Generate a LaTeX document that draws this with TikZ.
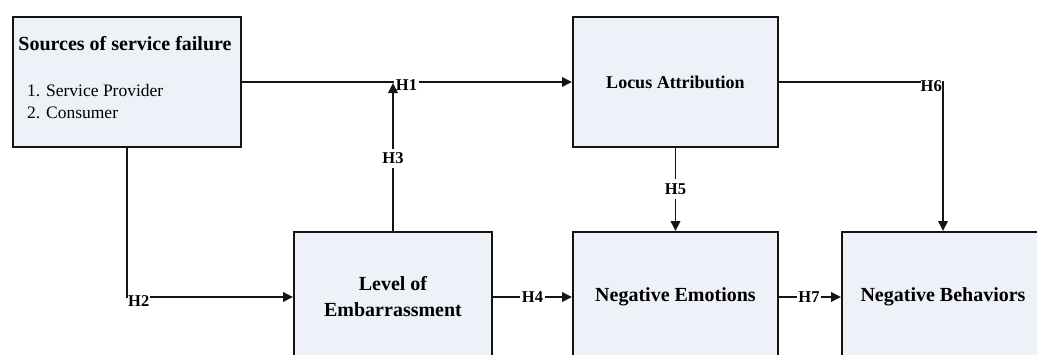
\documentclass[tikz,border=0pt]{standalone}
\usepackage{fontspec}
\setmainfont{Liberation Serif}
\usetikzlibrary{arrows.meta}
\definecolor{boxfill}{RGB}{238,241,247}
\definecolor{boxline}{RGB}{20,20,20}
\begin{document}
\begin{tikzpicture}[x=1pt,y=-1pt,
  box/.style={draw=boxline,fill=boxfill,line width=2pt,inner sep=0pt,align=center,
    font=\fontsize{20}{26}\selectfont\bfseries},
  conn/.style={line width=1.9pt,draw=boxline},
  arr/.style={conn,-{Triangle[length=10pt,width=9.5pt]}},
  hlab/.style={inner xsep=1.5pt,inner ysep=4pt,font=\fontsize{16.5}{16.5}\selectfont\bfseries},
  srctitle/.style={inner sep=0pt,anchor=base,font=\fontsize{20}{24}\selectfont\bfseries},
  srcitem/.style={inner sep=0pt,anchor=base west,font=\fontsize{17.5}{22}\selectfont}]
\clip (0,0) rectangle (1037,354);
\fill[white] (0,0) rectangle (1037,354);
% boxes
\node[box,minimum width=228pt,minimum height=130pt] (src) at (127,82) {};
\node[srctitle] (srct) at (125,50.5) {Sources of service failure};
\node[srcitem] (it1) at (27,96.5) {1. Service Provider};
\node[srcitem] (it2) at (27,118.5) {2. Consumer};
\node[box,minimum width=205pt,minimum height=130pt,font=\fontsize{18}{22}\selectfont\bfseries] (loc) at (675.5,82) {Locus Attribution};
\node[box,minimum width=198pt,minimum height=130pt] (emb) at (393,297) {Level of\\Embarrassment};
\node[box,minimum width=205pt,minimum height=130pt] (neg) at (675.5,297) {Negative Emotions};
\node[box,minimum width=202pt,minimum height=130pt] (beh) at (943,297) {Negative Behaviors};
% labels
\node[hlab] (h1) at (406.5,85) {H1};
\node[hlab] (h3) at (393,158.5) {H3};
\node[hlab,anchor=west,inner xsep=0.5pt] (h2) at (127.5,301) {H2};
\node[hlab] (h4) at (532.5,297.5) {H4};
\node[hlab] (h5) at (675.5,189) {H5};
\node[hlab,anchor=east,inner xsep=0pt] (h6) at (942,86) {H6};
\node[hlab] (h7) at (809,297.5) {H7};
% connectors
\draw[conn] (src.east) -- (src.east -| h1.west);
\draw[arr] (h1.east |- src.east) -- (loc.west);
\draw[conn] (emb.north) -- (h3.south);
\draw[arr,shorten >=1pt] (h3.north) -- (h3.north |- src.east);
\draw[conn] (src.south) -- (src.south |- emb.west) -- (h2.west |- emb.west);
\draw[arr] (h2.east |- emb.west) -- (emb.west);
\draw[conn] (emb.east) -- (emb.east -| h4.west);
\draw[arr] (h4.east |- emb.east) -- (neg.west);
\draw[conn] (loc.south) -- (h5.north);
\draw[arr] (h5.south) -- (neg.north);
\draw[conn] (loc.east) -- (loc.east -| h6.west);
\draw[arr] (h6.east |- loc.east) -- (beh.north |- loc.east) -- (beh.north);
\draw[conn] (neg.east) -- (neg.east -| h7.west);
\draw[arr] (h7.east |- neg.east) -- (beh.west);
\end{tikzpicture}
\end{document}
